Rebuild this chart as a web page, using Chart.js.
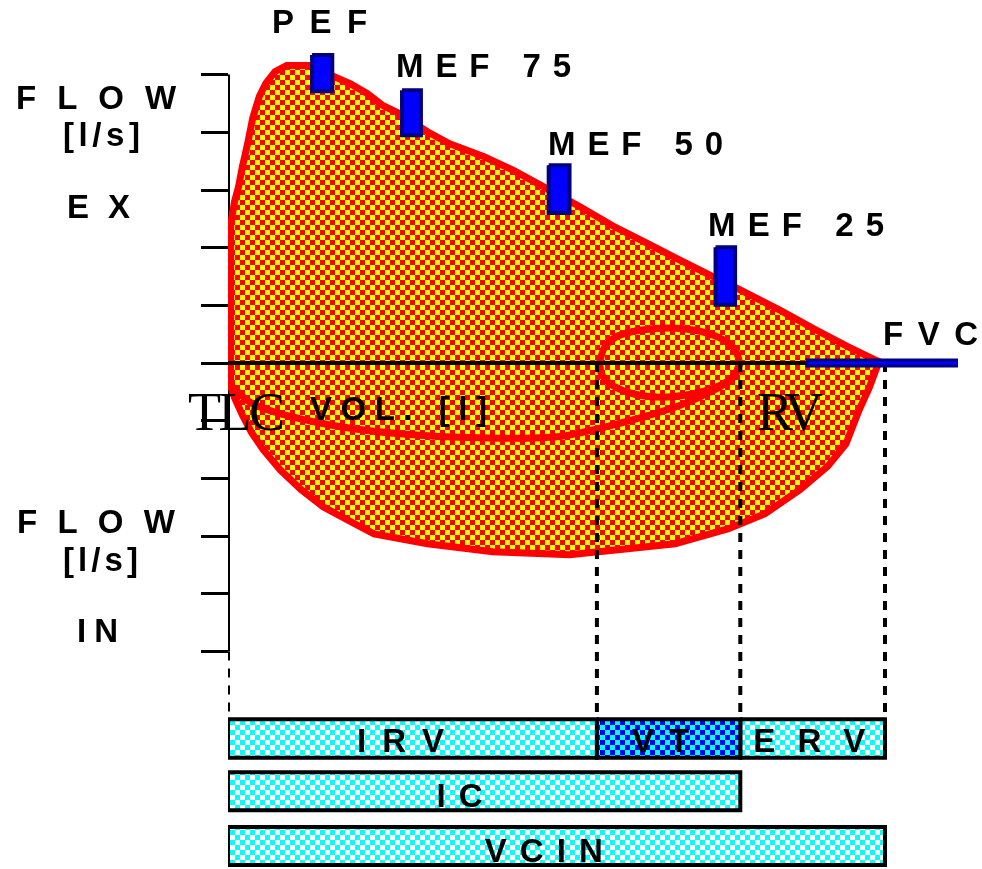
<!DOCTYPE html>
<html>
<head>
<meta charset="utf-8">
<script src="https://cdn.jsdelivr.net/npm/chart.js@4.4.0/dist/chart.umd.min.js"></script>
<style>
  html, body { margin: 0; padding: 0; background: #fff; }
</style>
</head>
<body>
<canvas id="chart" width="982" height="869"></canvas>
<script>
// volume in litres from TLC, flow in l/s (positive = expiration)
const expVol  = [0.02, 0.02, 0.05, 0.08, 0.11, 0.15, 0.19, 0.24, 0.29, 0.36, 0.45, 0.63, 0.81, 0.94, 1.07, 1.19, 1.32, 1.53, 1.70, 1.96, 2.19, 2.45, 2.70, 2.95, 3.22, 3.47, 3.72, 3.91, 4.24, 4.49, 4.75, 4.98, 5.02];
const expFlow = [0, 2.40, 2.80, 3.05, 3.40, 3.80, 4.25, 4.62, 4.85, 5.05, 5.16, 5.16, 4.97, 4.84, 4.67, 4.46, 4.32, 4.01, 3.80, 3.58, 3.34, 3.02, 2.71, 2.38, 2.07, 1.78, 1.50, 1.29, 0.91, 0.60, 0.29, 0.04, 0];

const inspVol  = [0.02, 0.02, 0.05, 0.11, 0.18, 0.27, 0.40, 0.56, 0.73, 0.91, 1.12, 1.53, 2.03, 2.62, 3.01, 3.43, 3.84, 4.12, 4.39, 4.60, 4.74, 4.84, 4.92, 4.99];
const inspFlow = [0, -0.40, -0.60, -0.90, -1.20, -1.50, -1.85, -2.19, -2.49, -2.71, -2.96, -3.13, -3.27, -3.32, -3.23, -3.13, -2.87, -2.61, -2.19, -1.79, -1.40, -0.82, -0.42, 0];

// inspiration from end of tidal loop back to TLC
const innerVol  = [0.02, 0.17, 0.44, 0.94, 1.47, 2.09, 2.55, 2.85, 3.16, 3.47, 3.70, 3.87, 3.93];
const innerFlow = [-0.38, -0.68, -0.90, -1.13, -1.25, -1.30, -1.27, -1.13, -0.95, -0.73, -0.50, -0.26, 0];

// tidal breathing loop
const tidalVol  = [2.85, 2.89, 2.99, 3.16, 3.38, 3.58, 3.76, 3.88, 3.92, 3.88, 3.74, 3.55, 3.32, 3.12, 2.96, 2.87, 2.85];
const tidalFlow = [0.02, 0.28, 0.47, 0.57, 0.61, 0.57, 0.45, 0.26, 0.02, -0.23, -0.42, -0.54, -0.59, -0.54, -0.40, -0.21, 0.02];

// PEF / MEF markers
const markerNames      = ['PEF', 'MEF 75', 'MEF 50', 'MEF 25'];
const markerVolFrom    = [0.645, 1.335, 2.46, 3.74];
const markerVolTo      = [0.80, 1.48, 2.62, 3.89];
const markerFlowTop    = [5.34, 4.73, 3.43, 2.01];
const markerFlowBottom = [4.71, 3.95, 2.60, 1.01];

// TLC, end of IRV, end of VT, FVC
const volumeMarks = [0, 2.83, 3.93, 5.04];
const fvcBar = [4.43, 5.6];

// lung volume boxes under the plot
const boxNames = ['IRV', 'VT', 'ERV', 'IC', 'VCIN'];
const boxFrom  = [0, 2.83, 3.93, 0, 0];
const boxTo    = [2.83, 3.93, 5.04, 3.93, 5.04];
const boxRow   = [0, 0, 0, 1, 2];
const rowTop    = [-6.17, -7.09, -8.04];
const rowBottom = [-6.84, -7.75, -8.70];

const flowTicks = [-5, -4, -3, -2, -1, 0, 1, 2, 3, 4, 5];
const volTicks  = [1, 2, 3, 4];

const pixelFont = 'bold 33px "Liberation Sans", Arial, sans-serif';
const serifFont = '54px "Liberation Serif", "Times New Roman", serif';

// text: left edge and baseline in chart units, ink width in px
const textLabels = [
  { text: 'PEF',     vol: 0.338,  flow: 5.72,   width: 95,  font: pixelFont },
  { text: 'MEF 75',  vol: 1.289,  flow: 4.957,  width: 175, font: pixelFont },
  { text: 'MEF 50',  vol: 2.455,  flow: 3.605,  width: 175, font: pixelFont },
  { text: 'MEF 25',  vol: 3.683,  flow: 2.201,  width: 176, font: pixelFont },
  { text: 'FVC',     vol: 5.025,  flow: 0.312,  width: 95,  font: pixelFont },
  { text: 'FLOW',    vol: -1.626, flow: 4.402,  width: 160, font: pixelFont },
  { text: '[l/s]',   vol: -1.266, flow: 3.761,  width: 77,  font: pixelFont },
  { text: 'EX',      vol: -1.235, flow: 2.513,  width: 63,  font: pixelFont },
  { text: 'FLOW',    vol: -1.619, flow: -2.946, width: 158, font: pixelFont },
  { text: '[l/s]',   vol: -1.266, flow: -3.605, width: 75,  font: pixelFont },
  { text: 'IN',      vol: -1.158, flow: -4.835, width: 41,  font: pixelFont },
  { text: 'VOL. [l]', vol: 0.629, flow: -0.988, width: 177, font: pixelFont },
  { text: 'TLC',     vol: -0.307, flow: -1.161, width: 97,  font: serifFont },
  { text: 'RV',      vol: 4.058,  flow: -1.161, width: 66,  font: serifFont },
  { text: 'IRV',     vol: 0.99,   flow: -6.742, width: 87,  font: pixelFont },
  { text: 'VT',      vol: 3.10,   flow: -6.742, width: 57,  font: pixelFont },
  { text: 'ERV',     vol: 4.03,   flow: -6.742, width: 112, font: pixelFont },
  { text: 'IC',      vol: 1.60,   flow: -7.695, width: 46,  font: pixelFont },
  { text: 'VCIN',    vol: 1.97,   flow: -8.648, width: 118, font: pixelFont },
];

function checker(c1, c2, size) {
  const p = document.createElement('canvas');
  p.width = p.height = size * 2;
  const g = p.getContext('2d');
  g.fillStyle = c1;
  g.fillRect(0, 0, size * 2, size * 2);
  g.fillStyle = c2;
  g.fillRect(0, 0, size, size);
  g.fillRect(size, size, size, size);
  return g.createPattern(p, 'repeat');
}

const orangeCheck = checker('#ffff00', '#ff0000', 5);
const cyanCheck = checker('#ffffff', '#00ffff', 5);
const blueCheck = checker('#00ffff', '#0000ff', 5);

const xy = (xs, ys) => xs.map((x, i) => ({ x, y: ys[i] }));
const rect = (x1, x2, y1, y2) => [
  { x: x1, y: y1 }, { x: x2, y: y1 }, { x: x2, y: y2 }, { x: x1, y: y2 }, { x: x1, y: y1 }
];

const line = (data, extra) => Object.assign({
  data,
  borderColor: '#000',
  borderWidth: 4,
  pointRadius: 0,
  fill: false,
  tension: 0,
}, extra);

const datasets = [
  line([{ x: 0, y: flowTicks[0] }, { x: 0, y: flowTicks[flowTicks.length - 1] }], { order: 30 }),
  line(xy(expVol, expFlow), { order: 20, borderColor: '#ff0000', borderWidth: 7, fill: 'origin', backgroundColor: orangeCheck }),
  line(xy(inspVol, inspFlow), { order: 20, borderColor: '#ff0000', borderWidth: 7, fill: 'origin', backgroundColor: orangeCheck }),
  line(xy(innerVol, innerFlow), { order: 15, borderColor: '#ff0000', borderWidth: 7, tension: 0.3 }),
  line(xy(tidalVol, tidalFlow), { order: 15, borderColor: '#ff0000', borderWidth: 7, tension: 0.3 }),
  line([{ x: 0, y: 0 }, { x: volumeMarks[3], y: 0 }], { order: 10 }),
  line([{ x: volumeMarks[0], y: flowTicks[0] }, { x: volumeMarks[0], y: rowTop[0] }], { order: 9, borderDash: [9, 8] }),
];
volumeMarks.slice(1).forEach(v => {
  datasets.push(line([{ x: v, y: 0 }, { x: v, y: rowTop[0] }], { order: 9, borderDash: [9, 8] }));
});
datasets.push(line([{ x: fvcBar[0], y: 0 }, { x: fvcBar[1], y: 0 }], { order: 8, borderColor: '#000080', borderWidth: 9 }));
datasets.push(line([{ x: fvcBar[0] + 0.02, y: 0 }, { x: fvcBar[1], y: 0 }], { order: 7, borderColor: '#0000ff', borderWidth: 3 }));
markerNames.forEach((name, i) => {
  datasets.push(line(rect(markerVolFrom[i], markerVolTo[i], markerFlowTop[i], markerFlowBottom[i]), {
    label: name, order: 5, borderColor: '#000080', borderWidth: 4, fill: 'shape', backgroundColor: '#0000ff'
  }));
});
boxNames.forEach((name, i) => {
  const r = boxRow[i];
  datasets.push(line(rect(boxFrom[i], boxTo[i], rowTop[r], rowBottom[r]), {
    label: name, order: name === 'VT' ? 2 : 3, borderWidth: 4, fill: 'shape',
    backgroundColor: name === 'VT' ? blueCheck : cyanCheck
  }));
});

function spacedText(ctx, text, left, baseline, width) {
  const chars = [...text];
  const ws = chars.map(c => ctx.measureText(c).width);
  const natural = ws.reduce((a, b) => a + b, 0);
  const gap = chars.length > 1 ? (width - natural) / (chars.length - 1) : 0;
  let x = left;
  chars.forEach((c, i) => {
    ctx.fillText(c, x, baseline);
    x += ws[i] + gap;
  });
}

const textPlugin = {
  id: 'texts',
  afterDraw(chart) {
    const { ctx, scales: { x, y } } = chart;
    ctx.save();
    ctx.fillStyle = '#000';
    ctx.textBaseline = 'alphabetic';
    ctx.textAlign = 'left';
    textLabels.forEach(l => {
      ctx.font = l.font;
      spacedText(ctx, l.text, x.getPixelForValue(l.vol), y.getPixelForValue(l.flow), l.width);
    });
    ctx.restore();
  }
};

new Chart(document.getElementById('chart'), {
  type: 'line',
  data: { datasets },
  plugins: [textPlugin],
  options: {
    responsive: false,
    animation: false,
    events: [],
    layout: { padding: { left: 201, right: 24, top: 40, bottom: 1 } },
    plugins: { legend: { display: false }, tooltip: { enabled: false } },
    scales: {
      x: {
        type: 'linear', min: 0, max: 5.6, position: { y: 0 }, z: 1,
        afterBuildTicks: s => { s.ticks = volTicks.map(v => ({ value: v })); },
        ticks: { display: false },
        grid: { drawOnChartArea: false, tickLength: 5, color: '#000', lineWidth: 4 },
        border: { display: false },
      },
      y: {
        type: 'linear', min: -8.75, max: 5.6, position: 'left', z: 1,
        afterBuildTicks: s => { s.ticks = flowTicks.map(v => ({ value: v })); },
        ticks: { display: false },
        grid: { drawOnChartArea: false, tickLength: 27, color: '#000', lineWidth: 3 },
        border: { display: false },
      },
    },
  },
});
</script>
</body>
</html>
